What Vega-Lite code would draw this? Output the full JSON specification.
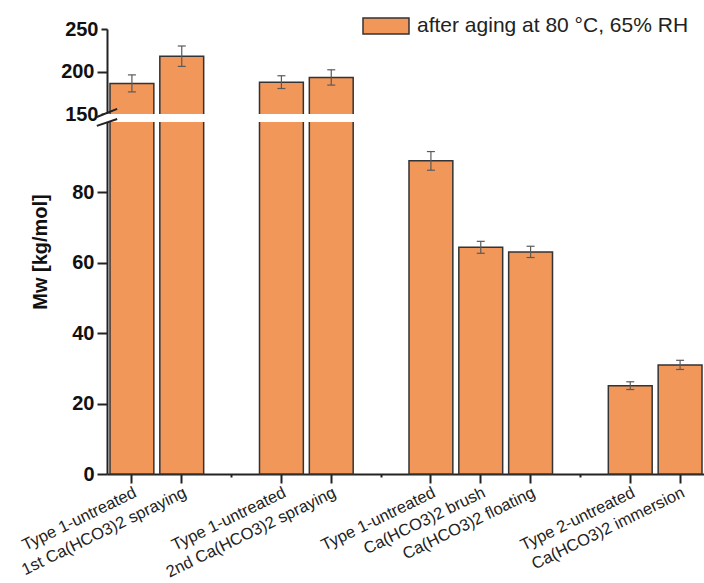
{
  "$schema": "https://vega.github.io/schema/vega-lite/v6.json",
  "width": 598,
  "height": 445,
  "autosize": "none",
  "padding": {"left": 107, "top": 29, "right": 0, "bottom": 109},
  "background": "white",
  "config": {
    "view": {"stroke": null},
    "font": "Liberation Sans"
  },
  "data": {
    "values": [
      {"slot": 1, "cond": "after aging at 80 °C, 65% RH", "mw": 186, "lo": 176, "hi": 196},
      {"slot": 2, "cond": "after aging at 80 °C, 65% RH", "mw": 218, "lo": 206, "hi": 230},
      {"slot": 4, "cond": "after aging at 80 °C, 65% RH", "mw": 187.5, "lo": 180, "hi": 195},
      {"slot": 5, "cond": "after aging at 80 °C, 65% RH", "mw": 193, "lo": 184, "hi": 202},
      {"slot": 7, "cond": "after aging at 80 °C, 65% RH", "mw": 89, "lo": 86.3, "hi": 91.6},
      {"slot": 8, "cond": "after aging at 80 °C, 65% RH", "mw": 64.4, "lo": 62.7, "hi": 66.1},
      {"slot": 9, "cond": "after aging at 80 °C, 65% RH", "mw": 63.1, "lo": 61.5, "hi": 64.7},
      {"slot": 11, "cond": "after aging at 80 °C, 65% RH", "mw": 25.1, "lo": 24.0, "hi": 26.2},
      {"slot": 12, "cond": "after aging at 80 °C, 65% RH", "mw": 31, "lo": 29.7, "hi": 32.3}
    ]
  },
  "layer": [
    {
      "encoding": {
        "x": {
          "field": "slot",
          "type": "ordinal",
          "scale": {"type": "band", "domain": [1, 2, 3, 4, 5, 6, 7, 8, 9, 10, 11, 12], "paddingInner": 0.12, "paddingOuter": 0.06},
          "axis": {
            "title": null,
            "labelExpr": "['', 'Type 1-untreated', '1st Ca(HCO3)2 spraying', '', 'Type 1-untreated', '2nd Ca(HCO3)2 spraying', '', 'Type 1-untreated', 'Ca(HCO3)2 brush', 'Ca(HCO3)2 floating', '', 'Type 2-untreated', 'Ca(HCO3)2 immersion'][datum.value]",
            "labelAngle": -26,
            "labelAlign": "right",
            "labelBaseline": "top",
            "labelFont": "Liberation Sans",
            "labelFontSize": 16.5,
            "labelColor": "#222222",
            "labelPadding": 1,
            "labelOverlap": false,
            "labelBound": false,
            "labelLimit": 400,
            "tickSize": {"condition": {"test": "datum.value == 3 || datum.value == 6 || datum.value == 10", "value": 3}, "value": 9},
            "tickColor": "#222222",
            "tickWidth": 2,
            "domainColor": "#222222",
            "domainWidth": 2,
            "grid": false
          }
        }
      },
      "layer": [
        {
          "mark": {"type": "bar", "stroke": "#333333", "strokeWidth": 1.5},
          "encoding": {
            "y": {
              "field": "mw",
              "type": "quantitative",
              "title": "Mw [kg/mol]",
              "scale": {"domain": [0, 100, 150, 250], "range": [445, 93, 85, 0], "nice": false, "zero": false},
              "axis": {
                "values": [0, 10, 20, 30, 40, 50, 60, 70, 80, 90, 150, 175, 200, 225, 250],
                "labelExpr": "(datum.value % 20 == 0 && datum.value <= 80) || (datum.value % 50 == 0 && datum.value >= 150) ? datum.label : ''",
                "labelOverlap": false,
                "labelFont": "Liberation Sans",
                "labelFontSize": 20,
                "labelFontWeight": "bold",
                "labelColor": "#111111",
                "labelPadding": 3,
                "tickSize": {"condition": {"test": "datum.value % 20 == 10 || datum.value == 175 || datum.value == 225", "value": 6}, "value": 10},
                "tickColor": "#222222",
                "tickWidth": 2,
                "domainColor": "#222222",
                "domainWidth": 2,
                "grid": false,
                "titleFont": "Liberation Sans",
                "titleFontSize": 20,
                "titleFontWeight": "bold",
                "titleColor": "#111111",
                "titlePadding": 10,
                "zindex": 0
              }
            },
            "color": {
              "field": "cond",
              "type": "nominal",
              "scale": {"range": ["#F2975A"]},
              "legend": {
                "title": null,
                "orient": "none",
                "legendX": 255,
                "legendY": -27,
                "padding": 0,
                "symbolType": "M-1,-0.348H1V0.348H-1Z",
                "symbolSize": 2116,
                "symbolStrokeColor": "#333333",
                "symbolStrokeWidth": 1.5,
                "symbolOpacity": 1,
                "labelFont": "Liberation Sans",
                "labelFontSize": 21,
                "labelColor": "#222222",
                "labelOffset": 7,
                "labelLimit": 400
              }
            }
          }
        },
        {
          "mark": {"type": "rule", "color": "#5a5a5a", "strokeWidth": 1.2},
          "encoding": {
            "y": {"field": "lo", "type": "quantitative", "title": "Mw [kg/mol]"},
            "y2": {"field": "hi"}
          }
        },
        {
          "mark": {"type": "tick", "color": "#5a5a5a", "size": 8, "thickness": 1.2, "opacity": 1},
          "encoding": {
            "y": {"field": "hi", "type": "quantitative", "title": "Mw [kg/mol]"}
          }
        },
        {
          "mark": {"type": "tick", "color": "#5a5a5a", "size": 8, "thickness": 1.2, "opacity": 1},
          "encoding": {
            "y": {"field": "lo", "type": "quantitative", "title": "Mw [kg/mol]"}
          }
        }
      ]
    },
    {
      "data": {"values": [{}]},
      "layer": [
        {
          "mark": {"type": "rect", "color": "white"},
          "encoding": {
            "x": {"datum": -1.2, "type": "quantitative", "scale": {"domain": [0, 100], "nice": false}, "axis": null},
            "x2": {"datum": 101},
            "y": {"datum": 100, "type": "quantitative", "title": "Mw [kg/mol]"},
            "y2": {"datum": 150}
          }
        },
        {
          "mark": {"type": "rule", "color": "#222222", "strokeWidth": 2},
          "encoding": {
            "x": {"datum": -1.7, "type": "quantitative", "axis": null},
            "x2": {"datum": 1.7},
            "y": {"datum": 131, "type": "quantitative", "title": "Mw [kg/mol]"},
            "y2": {"datum": 156}
          }
        },
        {
          "mark": {"type": "rule", "color": "#222222", "strokeWidth": 2},
          "encoding": {
            "x": {"datum": -1.7, "type": "quantitative", "axis": null},
            "x2": {"datum": 1.7},
            "y": {"datum": 98.9, "type": "quantitative", "title": "Mw [kg/mol]"},
            "y2": {"datum": 119}
          }
        }
      ]
    }
  ],
  "resolve": {"scale": {"x": "independent"}}
}
